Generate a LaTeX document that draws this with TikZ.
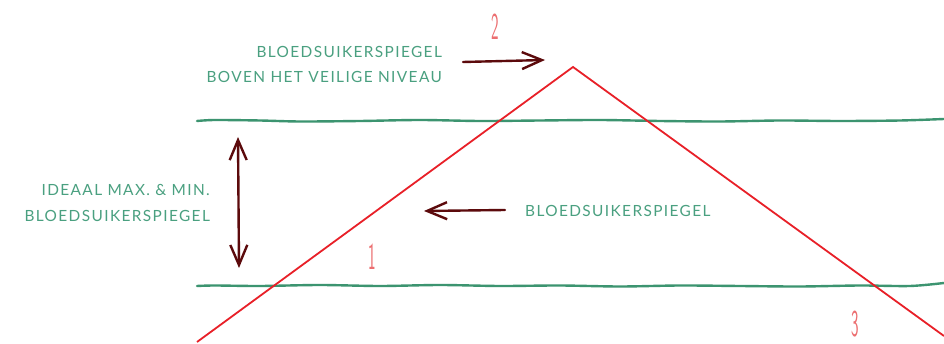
\documentclass[tikz,border=0pt]{standalone}
\usepackage{fontspec}
\setmainfont{Lato}[LetterSpace=9]
\usetikzlibrary{arrows.meta}
\definecolor{lblgreen}{RGB}{74,160,128}
\definecolor{linegreen}{RGB}{60,148,112}
\definecolor{redline}{RGB}{232,32,40}
\definecolor{numred}{RGB}{236,110,112}
\definecolor{maroon}{RGB}{92,10,12}
\begin{document}
\begin{tikzpicture}[x=1pt,y=-1pt,
  lbl/.style={text=lblgreen,font=\fontsize{15.4}{27}\selectfont,inner sep=0pt,align=right},
  numlbl/.style={text=numred,inner sep=0pt,anchor=base,font=\sffamily\fontsize{38}{38}\selectfont},
  wavy/.style={draw=linegreen,line width=2.4pt,line cap=round},
  ridge/.style={draw=redline,line width=1.8pt},
  handarrow/.style={draw=maroon,line width=2.4pt,line cap=round,-{Straight Barb[length=20pt,width=17pt,line width=2.4pt]}},
  handarrow2/.style={draw=maroon,line width=2.4pt,line cap=round,{Straight Barb[length=20pt,width=17pt,line width=2.4pt]}-{Straight Barb[length=20pt,width=17pt,line width=2.4pt]}}]
\useasboundingbox[fill=white] (0,0) rectangle (944,344);
% green bands
\draw[wavy] plot[smooth] coordinates {(197,121) (215,120) (260,120.5) (300,121.5) (360,121) (420,120) (480,121) (540,120.5) (600,120) (660,121) (720,121.5) (780,120.5) (840,121) (900,120.5) (944,119)};
\draw[wavy] plot[smooth] coordinates {(197,286) (215,285.5) (260,286) (320,285) (380,286) (440,285) (500,286) (560,285.5) (620,286.5) (680,285.5) (740,286) (800,286.5) (860,285.5) (910,286) (944,283)};
% red curve
\coordinate (r0) at (197,342);
\coordinate (peak) at (573,67);
\coordinate (r1) at (944,336);
\draw[ridge] (r0) -- (peak) -- (r1);
% labels
\node[lbl,anchor=east] (top1) at (442,52) {BLOEDSUIKERSPIEGEL};
\node[lbl,anchor=east] (top2) at (442,77) {BOVEN HET VEILIGE NIVEAU};
\node[lbl,anchor=east] (left1) at (210,190) {IDEAAL MAX. \& MIN.};
\node[lbl,anchor=east] (left2) at (210,216) {BLOEDSUIKERSPIEGEL};
\node[lbl,anchor=west] (mid) at (525,211) {BLOEDSUIKERSPIEGEL};
% numbers
\node[numlbl] (n2) at (495,40) {\scalebox{0.42}[1]{2}};
\node[numlbl] (n1) at (372,270) {\scalebox{0.42}[1]{1}};
\node[numlbl] (n3) at (855,336) {\scalebox{0.42}[1]{3}};
% arrows
\coordinate (a1s) at (463,62);
\coordinate (a1e) at (545,60);
\draw[handarrow] (a1s) -- (a1e);
\coordinate (a2s) at (238,137);
\coordinate (a2e) at (239,268);
\draw[handarrow2] (a2s) -- (a2e);
\coordinate (a3s) at (505,210);
\coordinate (a3e) at (424,211);
\draw[handarrow] (a3s) -- (a3e);
\end{tikzpicture}
\end{document}
